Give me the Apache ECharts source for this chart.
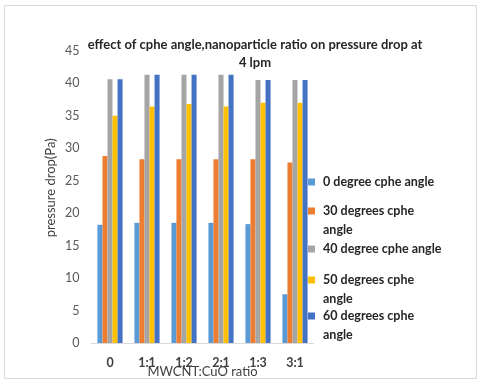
<!DOCTYPE html>
<html><head><meta charset="utf-8">
<script src="https://cdn.jsdelivr.net/npm/echarts@6/dist/echarts.min.js"></script>
<style>html,body{margin:0;padding:0;background:#fff}#c{width:480px;height:385px}</style>
</head><body><div id="c"></div>
<script>
var categories = ['0', '1:1', '1:2', '2:1', '1:3', '3:1'];
var seriesNames = ['0 degree cphe angle', '30 degrees cphe angle', '40 degree cphe angle', '50 degrees cphe angle', '60 degrees cphe angle'];
var deg0 = [18.2, 18.5, 18.5, 18.5, 18.3, 7.5];
var deg30 = [28.8, 28.3, 28.3, 28.3, 28.3, 27.8];
var deg40 = [40.6, 41.3, 41.3, 41.3, 40.5, 40.5];
var deg50 = [35.0, 36.4, 36.8, 36.4, 37.0, 37.0];
var deg60 = [40.6, 41.3, 41.3, 41.3, 40.5, 40.5];
var yTicks = [0, 5, 10, 15, 20, 25, 30, 35, 40, 45];

var colors = ['#5B9BD5', '#ED7D31', '#A5A5A5', '#FFC000', '#4472C4'];
var values = [deg0, deg30, deg40, deg50, deg60];
var legendNames = [' \n0 degree cphe angle\n ', ' \n30 degrees cphe\nangle', ' \n40 degree cphe angle\n ', ' \n50 degrees cphe\nangle', ' \n60 degrees cphe\nangle'];
var legendCenters = [182, 211, 249, 280, 316];

var font = 'Lato, "Open Sans", sans-serif';
var chart = echarts.init(document.getElementById('c'), null, {renderer: 'canvas'});
var legends = seriesNames.map(function (n, i) {
  return {
    data: [n], left: 308, top: legendCenters[i] - 28.5, orient: 'vertical',
    itemWidth: 7, itemHeight: 7, itemGap: 0, icon: 'rect', padding: 0,
    formatter: function () { return legendNames[i]; },
    textStyle: {fontFamily: font, fontWeight: 'bold', fontSize: 12.5, color: '#262626', lineHeight: 19, padding: [0, 0, 0, 3]}
  };
});
chart.setOption({
  animation: false,
  color: colors,
  title: {
    text: 'effect of cphe angle,nanoparticle ratio on pressure drop at\n4 lpm',
    left: 250, top: 31, textAlign: 'center',
    textStyle: {fontFamily: font, fontWeight: 'bold', fontSize: 13, color: '#262626', lineHeight: 18}
  },
  legend: legends,
  grid: {left: 91.5, right: 166.5, top: 50.7, bottom: 42, containLabel: false, outerBoundsMode: 'none'},
  xAxis: {
    type: 'category', data: categories,
    name: 'MWCNT:CuO ratio', nameLocation: 'middle', nameGap: 22, nameMoveOverlap: false,
    nameTextStyle: {fontFamily: font, fontSize: 13, color: '#404040'},
    axisLine: {lineStyle: {color: '#D9D9D9'}},
    axisTick: {show: false},
    axisLabel: {margin: 13, fontFamily: font, fontWeight: 'bold', fontSize: 12.5, color: '#404040'}
  },
  yAxis: {
    type: 'value', min: yTicks[0], max: yTicks[yTicks.length - 1], interval: 5,
    name: 'pressure drop(Pa)', nameLocation: 'middle', nameGap: 34,
    nameTextStyle: {fontFamily: font, fontSize: 13, color: '#404040', padding: [0, 0, 0, 18]},
    axisLine: {show: false}, axisTick: {show: false}, splitLine: {show: false},
    axisLabel: {margin: 12, fontFamily: font, fontSize: 12.5, color: '#595959'}
  },
  graphic: [{type: 'rect', shape: {x: 4.5, y: 5.5, width: 472, height: 373}, style: {fill: 'none', stroke: '#D9D9D9', lineWidth: 1}, silent: true, z: -1}],
  series: seriesNames.map(function (n, i) {
    return {name: n, type: 'bar', data: values[i], barGap: '0%', barCategoryGap: '32%', itemStyle: {color: colors[i]}};
  })
});
</script></body></html>
